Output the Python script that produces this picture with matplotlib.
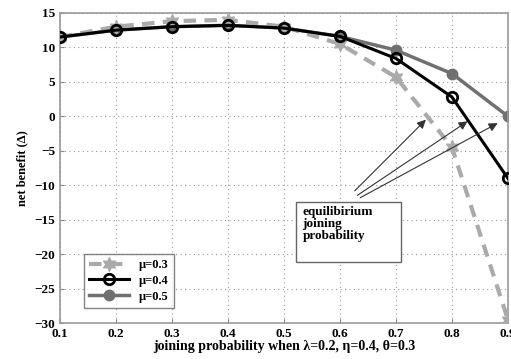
import numpy as np
import matplotlib.pyplot as plt
from matplotlib.patches import Rectangle

# joining probability
p = [0.1, 0.2, 0.3, 0.4, 0.5, 0.6, 0.7, 0.8, 0.9]
mu03 = [11.5, 13.0, 13.8, 14.0, 13.0, 10.5, 5.7, -4.5, -29.5]
mu04 = [11.5, 12.5, 13.0, 13.2, 12.8, 11.6, 8.4, 2.8, -9.0]
mu05 = [11.5, 12.5, 13.0, 13.2, 12.8, 11.6, 9.6, 6.2, 0.0]

# annotation arrows (tail -> head, data coords)
arrow_tails = [(0.623, -11.1), (0.627, -11.7), (0.632, -12.0)]
arrow_heads = [(0.757, -0.2), (0.832, -0.5), (0.886, -0.8)]

serif = ['Liberation Serif', 'DejaVu Serif']
plt.rcParams['font.family'] = serif
plt.rcParams['font.weight'] = 'bold'

fig = plt.figure(figsize=(5.11, 3.59), dpi=100)
ax = fig.add_axes([0.117, 0.100, 0.877, 0.864])

ax.plot(p, mu03, color='#aaaaaa', linestyle=(0, (3, 2)), linewidth=3,
        marker=(6, 1, 0), markersize=10, markerfacecolor='#aaaaaa',
        markeredgecolor='#aaaaaa', label='μ=0.3', zorder=3)
ax.plot(p, mu04, color='black', linewidth=2.2, marker='o', markersize=7.5,
        markerfacecolor='none', markeredgecolor='black', markeredgewidth=2,
        label='μ=0.4', zorder=4)
ax.plot(p, mu05, color='#707070', linewidth=2.5, marker='o', markersize=7.5,
        markerfacecolor='#707070', markeredgecolor='#707070',
        label='μ=0.5', zorder=2)

for (tx, ty), (hx, hy) in zip(arrow_tails, arrow_heads):
    ax.annotate('', xy=(hx, hy), xytext=(tx, ty),
                arrowprops=dict(arrowstyle='-|>', color='#333333', lw=0.8,
                                mutation_scale=13), zorder=5)

# text box for the arrows
ax.add_patch(Rectangle((0.521, -21.1), 0.188, 8.7, facecolor='white',
                       edgecolor='#666666', linewidth=1.0, zorder=6))
ax.text(0.533, -13.0, 'equilibirium\njoining\nprobability', fontsize=9.5,
        fontweight='bold', va='top', ha='left', linespacing=1.0, zorder=7)

ax.set_xlim(0.1, 0.9)
ax.set_ylim(-30, 15)
ax.set_xticks(np.arange(0.1, 0.91, 0.1))
ax.set_xticklabels(['0.1', '0.2', '0.3', '0.4', '0.5', '0.6', '0.7', '0.8', '0.9'])
ax.set_yticks(range(-30, 16, 5))
ax.tick_params(labelsize=9.5, direction='in', length=3, color='#888888')
for lab in ax.get_xticklabels() + ax.get_yticklabels():
    lab.set_fontweight('bold')
ax.grid(True, linestyle=(0, (1, 3)), color='#999999', linewidth=0.8)
for s in ax.spines.values():
    s.set_color('#999999')
    s.set_linewidth(1.2)

ax.set_xlabel('joining probability when λ=0.2, η=0.4, θ=0.3', fontsize=10,
              fontweight='bold', labelpad=0)
ax.set_ylabel('net benefit (Δ)', fontsize=9, fontweight='bold', labelpad=4)

leg = ax.legend(loc='lower left', bbox_to_anchor=(0.04, 0.03), fontsize=9,
                frameon=True, fancybox=False, edgecolor='#666666',
                handlelength=3.2, borderpad=0.4, labelspacing=0.3)
leg.get_frame().set_linewidth(1.0)
for t in leg.get_texts():
    t.set_fontweight('bold')

fig.savefig('out.png', dpi=100)
